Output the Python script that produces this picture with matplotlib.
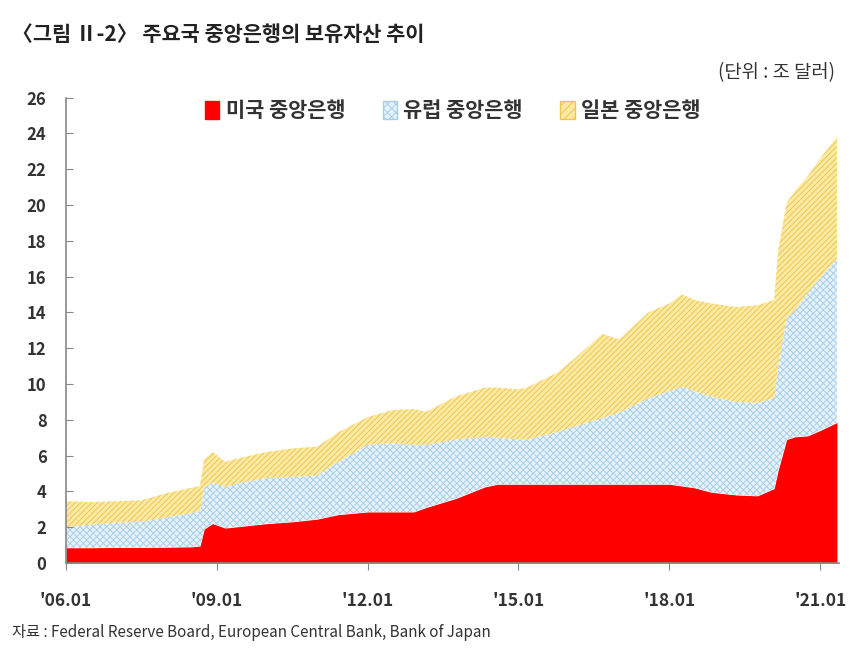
import numpy as np
import matplotlib.pyplot as plt
from matplotlib.patches import Patch

plt.rcParams['font.family'] = ['Noto Sans CJK KR', 'DejaVu Sans']
plt.rcParams['hatch.linewidth'] = 0.7

# monthly points (trillion USD)
dates = ["2006-01", "2006-07", "2007-01", "2007-07", "2008-01", "2008-07", "2008-09",
         "2008-10", "2008-12", "2009-03", "2009-07", "2010-01", "2010-07", "2011-01",
         "2011-06", "2012-01", "2012-07", "2012-12", "2013-03", "2013-10", "2014-05",
         "2014-08", "2015-01", "2015-03", "2015-10", "2016-02", "2016-09", "2017-01",
         "2017-08", "2018-01", "2018-04", "2018-07", "2018-11", "2019-05", "2019-10",
         "2020-02", "2020-03", "2020-05", "2020-07", "2020-10", "2021-01", "2021-05"]
us = [0.85, 0.85, 0.87, 0.87, 0.88, 0.90, 0.95, 1.90, 2.20, 1.95, 2.05, 2.20, 2.30, 2.45,
      2.70, 2.85, 2.85, 2.85, 3.10, 3.60, 4.25, 4.40, 4.40, 4.40, 4.40, 4.40, 4.40, 4.40,
      4.40, 4.40, 4.30, 4.20, 3.95, 3.80, 3.75, 4.15, 5.20, 6.90, 7.05, 7.10, 7.40, 7.85]
ecb = [1.15, 1.30, 1.38, 1.43, 1.67, 1.90, 1.95, 2.30, 2.30, 2.30, 2.45, 2.55, 2.50, 2.45,
       2.95, 3.75, 3.85, 3.75, 3.50, 3.30, 2.80, 2.60, 2.50, 2.50, 2.90, 3.20, 3.70, 4.00,
       4.80, 5.20, 5.55, 5.40, 5.35, 5.20, 5.20, 5.05, 5.80, 6.80, 7.05, 8.00, 8.50, 9.15]
boj = [1.45, 1.25, 1.20, 1.20, 1.35, 1.40, 1.40, 1.60, 1.70, 1.40, 1.40, 1.45, 1.60, 1.60,
       1.65, 1.55, 1.85, 2.00, 1.85, 2.40, 2.75, 2.80, 2.80, 2.90, 3.30, 3.75, 4.70, 4.10,
       4.80, 4.90, 5.15, 5.10, 5.20, 5.30, 5.45, 5.50, 6.50, 6.40, 6.70, 6.50, 6.70, 6.80]
labels = ["미국 중앙은행", "유럽 중앙은행", "일본 중앙은행"]
xtick_years = [2006, 2009, 2012, 2015, 2018, 2021]
xtick_labels = ["'06.01", "'09.01", "'12.01", "'15.01", "'18.01", "'21.01"]

x = np.array([int(d[:4]) + (int(d[5:]) - 1) / 12 for d in dates])
us = np.array(us)
top_ecb = us + np.array(ecb)
top_boj = top_ecb + np.array(boj)

fig = plt.figure(figsize=(8.5, 6.6), dpi=100)
ax = fig.add_axes([0.0776, 0.147, 0.91, 0.705])

red = '#ff0000'
blue_face, blue_hatch = '#e6f2fa', '#a8cfe8'
yel_face, yel_hatch = '#fbe9a6', '#efc64a'

ax.fill_between(x, 0, us, facecolor=red, edgecolor=red, linewidth=0)
ax.fill_between(x, us, top_ecb, facecolor=blue_face, edgecolor=blue_hatch,
                hatch='xxxxx', linewidth=0)
ax.fill_between(x, top_ecb, top_boj, facecolor=yel_face, edgecolor=yel_hatch,
                hatch='//////', linewidth=0)

ax.set_xlim(2006, x[-1] + 0.05)
ax.set_ylim(0, 26)
ax.set_yticks(np.arange(0, 27, 2))
ax.set_xticks(xtick_years)
ax.set_xticklabels(xtick_labels)

for s in ['top', 'right']:
    ax.spines[s].set_visible(False)
for s in ['left', 'bottom']:
    ax.spines[s].set_color('#888888')
    ax.spines[s].set_linewidth(1.2)
ax.tick_params(axis='y', direction='in', length=5, color='#888888',
               labelsize=12, labelcolor='#333333', pad=14)
ax.tick_params(axis='x', direction='out', length=5, color='#888888',
               labelsize=12.5, labelcolor='#333333', pad=16)
for t in ax.get_yticklabels() + ax.get_xticklabels():
    t.set_fontweight('bold')

handles = [Patch(facecolor=red, edgecolor=red),
           Patch(facecolor=blue_face, edgecolor=blue_hatch, hatch='xxxx'),
           Patch(facecolor=yel_face, edgecolor=yel_hatch, hatch='////')]
leg = ax.legend(handles, labels, loc='upper center', bbox_to_anchor=(0.5, 1.035),
                ncol=3, frameon=False, fontsize=15, handlelength=0.7,
                handleheight=0.9, handletextpad=0.3, columnspacing=1.8)
for t in leg.get_texts():
    t.set_fontweight('bold')
    t.set_color('#333333')

fig.text(0.014, 0.948, "〈그림 Ⅱ-2〉 주요국 중앙은행의 보유자산 추이", fontsize=15,
         fontweight='bold', color='#222222', va='center')
fig.text(0.845, 0.89, "(단위 : 조 달러)", fontsize=13.5, color='#333333', va='center')
fig.text(0.014, 0.042, "자료 : Federal Reserve Board, European Central Bank, Bank of Japan",
         fontsize=11, color='#333333', va='center')

fig.savefig('out.png', dpi=100)
